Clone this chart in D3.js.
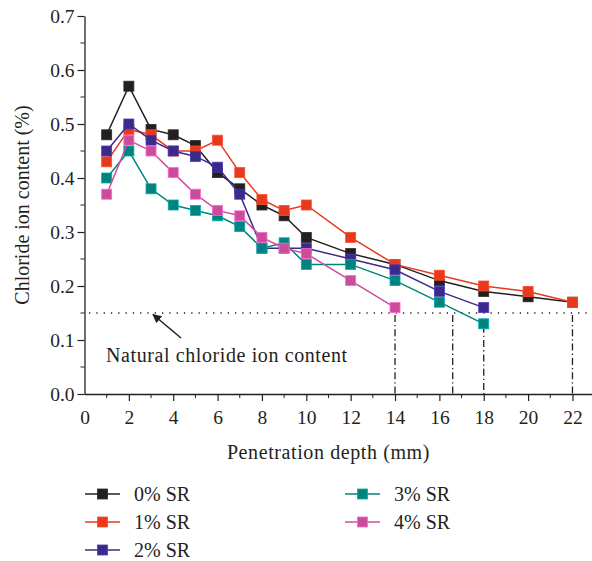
<!DOCTYPE html>
<html><head><meta charset="utf-8">
<script src="https://cdn.jsdelivr.net/npm/d3@7"></script>
<style>body{margin:0;background:#fff}svg{display:block}text{font-family:"Liberation Serif","DejaVu Serif",serif;fill:#231f20}</style>
</head><body><svg id="c" width="592" height="561"></svg>
<script>
const depthsLong = [1,2,3,4,5,6,7,8,9,10,12,14,16,18,20,22];
const depths18 = [1,2,3,4,5,6,7,8,9,10,12,14,16,18];
const depths14 = [1,2,3,4,5,6,7,8,9,10,12,14];
const sr0 = [0.48,0.57,0.49,0.48,0.46,0.41,0.38,0.35,0.33,0.29,0.26,0.24,0.21,0.19,0.18,0.17];
const sr1 = [0.43,0.49,0.48,0.45,0.45,0.47,0.41,0.36,0.34,0.35,0.29,0.24,0.22,0.20,0.19,0.17];
const sr2 = [0.45,0.50,0.47,0.45,0.44,0.42,0.37,0.27,0.27,0.27,0.25,0.23,0.19,0.16];
const sr3 = [0.40,0.45,0.38,0.35,0.34,0.33,0.31,0.27,0.28,0.24,0.24,0.21,0.17,0.13];
const sr4 = [0.37,0.47,0.45,0.41,0.37,0.34,0.33,0.29,0.27,0.26,0.21,0.16];
const seriesNames = ["0% SR","1% SR","2% SR","3% SR","4% SR"];
const seriesColors = ["#231f20","#e8391f","#3b2a8a","#00837f","#cc4c9c"];
const xTicks = [0,2,4,6,8,10,12,14,16,18,20,22];
const yTicks = [0,0.1,0.2,0.3,0.4,0.5,0.6,0.7];
const naturalLevel = 0.15;
const dropLines = [{x:14,top:0.15},{x:16.6,top:0.15},{x:18,top:0.13},{x:22,top:0.15}];
const annotation = "Natural chloride ion content";
const xTitle = "Penetration depth (mm)";
const yTitle = "Chloride ion content (%)";

const series = [
  {name:seriesNames[0], color:seriesColors[0], xs:depthsLong, ys:sr0},
  {name:seriesNames[1], color:seriesColors[1], xs:depthsLong, ys:sr1},
  {name:seriesNames[2], color:seriesColors[2], xs:depths18, ys:sr2},
  {name:seriesNames[3], color:seriesColors[3], xs:depths18, ys:sr3},
  {name:seriesNames[4], color:seriesColors[4], xs:depths14, ys:sr4}
];

const svg = d3.select("#c");
const x = d3.scaleLinear().domain([0,23]).range([84.5, 84.5+23*22.18]);
const y = d3.scaleLinear().domain([0,0.7]).range([394,16]);
const axisColor = "#231f20";

// natural level dotted line
svg.append("line").attr("x1", 89).attr("x2", 592).attr("y1", y(naturalLevel)).attr("y2", y(naturalLevel))
  .attr("stroke", axisColor).attr("stroke-width", 1.3).attr("stroke-dasharray", "1.3,6");

// drop lines
dropLines.forEach(d => {
  svg.append("line").attr("x1", x(d.x)).attr("x2", x(d.x)).attr("y1", y(d.top)+2).attr("y2", y(0))
    .attr("stroke", axisColor).attr("stroke-width", 1.3).attr("stroke-dasharray", "7,3,1.3,3");
});

// axes
const xMinor = d3.range(1,23,2);
const gx = svg.append("g").attr("transform", `translate(0,${y(0)})`);
gx.call(d3.axisBottom(x).tickValues(xTicks).tickFormat(d3.format("d")).tickSize(7).tickSizeOuter(0));
gx.append("g").selectAll("line").data(xMinor).join("line")
  .attr("x1", d=>x(d)).attr("x2", d=>x(d)).attr("y1",0).attr("y2",4).attr("stroke",axisColor);
gx.selectAll(".domain").attr("stroke", axisColor).attr("stroke-width",1.3);
gx.selectAll(".tick line").attr("stroke", axisColor).attr("stroke-width",1.2);
gx.selectAll(".tick text").attr("font-size",19.5).attr("dy","1.05em").style("font-family",'"Liberation Serif",serif').attr("fill",axisColor);
gx.selectAll(".tick").filter(d=>d===0).select("line").remove();

const yMinor = [0.05,0.15,0.25,0.35,0.45,0.55,0.65];
const gy = svg.append("g").attr("transform", `translate(${x(0)},0)`);
gy.call(d3.axisLeft(y).tickValues(yTicks).tickFormat(d3.format(".1f")).tickSize(7).tickSizeOuter(0));
gy.append("g").selectAll("line").data(yMinor).join("line")
  .attr("x1",0).attr("x2",-4).attr("y1",d=>y(d)).attr("y2",d=>y(d)).attr("stroke",axisColor);
gy.selectAll(".domain").attr("stroke", axisColor).attr("stroke-width",1.3);
gy.selectAll(".tick line").attr("stroke", axisColor).attr("stroke-width",1.2);
gy.selectAll(".tick text").attr("font-size",19.5).attr("x",-10).style("font-family",'"Liberation Serif",serif').attr("fill",axisColor);

// titles
svg.append("text").attr("x", x(11)).attr("y", 459).attr("text-anchor","middle").attr("font-size",20).attr("letter-spacing",0.6).text(xTitle);
svg.append("text").attr("transform", `translate(29,${y(0.35)}) rotate(-90)`).attr("text-anchor","middle").attr("font-size",20).text(yTitle);

// annotation
svg.append("text").attr("x", 106).attr("y", 362).attr("font-size",20).attr("letter-spacing",0.6).text(annotation);
const defs = svg.append("defs");
defs.append("marker").attr("id","ah").attr("viewBox","0 0 10 10").attr("refX",9).attr("refY",5)
  .attr("markerWidth",9).attr("markerHeight",9).attr("markerUnits","userSpaceOnUse").attr("orient","auto")
  .append("path").attr("d","M0,0 L10,5 L0,10 Z").attr("fill",axisColor);
svg.append("line").attr("x1",181).attr("y1",338).attr("x2",153).attr("y2",314.5)
  .attr("stroke",axisColor).attr("stroke-width",1.5).attr("marker-end","url(#ah)");

// series
const line = d3.line().x(d=>x(d[0])).y(d=>y(d[1]));
const ms = 10;
series.forEach(s => {
  const pts = s.xs.map((v,i)=>[v, s.ys[i]]);
  const g = svg.append("g");
  g.append("path").datum(pts).attr("d", line).attr("fill","none").attr("stroke", s.color).attr("stroke-width",1.5);
  g.selectAll("rect").data(pts).join("rect")
    .attr("x", d=>x(d[0])-ms/2).attr("y", d=>y(d[1])-ms/2).attr("width", ms).attr("height", ms)
    .attr("fill", s.color).attr("stroke", d3.color(s.color).brighter(0.8)).attr("stroke-width",0.8);
});

// legend
const legPos = [[85,494],[85,522],[85,550],[345,494],[345,522]];
series.forEach((s,i) => {
  const [lx, ly] = legPos[i];
  const g = svg.append("g");
  g.append("line").attr("x1",lx).attr("x2",lx+35).attr("y1",ly).attr("y2",ly).attr("stroke",s.color).attr("stroke-width",1.5);
  g.append("rect").attr("x",lx+17.5-ms/2).attr("y",ly-ms/2).attr("width",ms).attr("height",ms).attr("fill",s.color)
    .attr("stroke", d3.color(s.color).brighter(0.8)).attr("stroke-width",0.8);
  g.append("text").attr("x", lx+49).attr("y", ly+7).attr("font-size",20).text(s.name);
});
</script></body></html>
